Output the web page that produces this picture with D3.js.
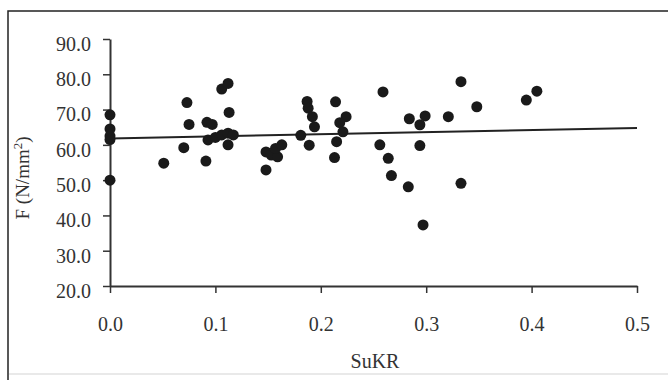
<!DOCTYPE html>
<html>
<head>
<meta charset="utf-8">
<script src="https://cdn.jsdelivr.net/npm/d3@7"></script>
<style>
  html, body { margin: 0; padding: 0; background: #fff; overflow: hidden; }
  svg { display: block; }
</style>
</head>
<body>
<svg id="chart"></svg>
<script>
const width = 668;
const height = 380;
const fontFamily = "'Liberation Serif', 'Times New Roman', serif";

// SuKR values (x) and F values (y)
const xValues = [0, 0, 0, 0, 0,
  0.051, 0.070, 0.073, 0.075, 0.092, 0.097, 0.091, 0.106, 0.112, 0.113,
  0.093, 0.100, 0.106, 0.112, 0.117, 0.112,
  0.148, 0.148, 0.153, 0.159, 0.157, 0.163,
  0.181, 0.187, 0.188, 0.192, 0.194, 0.189,
  0.214, 0.224, 0.218, 0.221, 0.215, 0.213,
  0.259, 0.256, 0.264, 0.267, 0.283, 0.297, 0.284, 0.294, 0.299, 0.294,
  0.321, 0.333, 0.348, 0.333, 0.395, 0.405];
const yValues = [68.5, 64.5, 62.5, 61.5, 50.0,
  54.8, 59.2, 72.0, 65.8, 66.4, 65.8, 55.4, 75.8, 77.4, 69.2,
  61.4, 62.1, 62.8, 63.3, 62.8, 60.0,
  52.9, 58.0, 57.1, 56.6, 59.0, 60.0,
  62.7, 72.3, 70.4, 68.0, 65.1, 59.9,
  72.2, 68.0, 66.3, 63.7, 60.9, 56.4,
  75.0, 60.0, 56.2, 51.3, 48.1, 37.3, 67.4, 65.7, 68.2, 59.8,
  68.0, 77.9, 70.8, 49.1, 72.7, 75.2];

// linear trend line end points
const trendX = [0, 0.5];
const trendY = [61.8, 64.8];

const xTicks = [0, 0.1, 0.2, 0.3, 0.4, 0.5];
const yTicks = [20, 30, 40, 50, 60, 70, 80, 90];

const data = xValues.map((x, i) => ({ x: x, y: yValues[i] }));

const svg = d3.select("#chart")
  .attr("width", width)
  .attr("height", height)
  .attr("font-family", fontFamily);

// outer frame: left and top edges dark, bottom edge faint
svg.append("path")
  .attr("d", `M8,${height}V11H${width}`)
  .attr("fill", "none")
  .attr("stroke", "#222")
  .attr("stroke-width", 1.5);
svg.append("line").attr("x1", 9).attr("x2", width).attr("y1", 374).attr("y2", 374)
  .attr("stroke", "#e2e2e2").attr("stroke-width", 1.5);

const margin = { top: 39, left: 110 };
const innerWidth = 527;
const innerHeight = 247;

const xScale = d3.scaleLinear().domain([0, 0.5]).range([0, innerWidth]);
const yScale = d3.scaleLinear().domain([20, 90]).range([innerHeight, 0]);

const g = svg.append("g")
  .attr("transform", `translate(${margin.left},${margin.top})`);

// x axis
const xAxis = d3.axisBottom(xScale)
  .tickValues(xTicks)
  .tickFormat(d3.format(".1f"))
  .tickSizeInner(7)
  .tickSizeOuter(0)
  .tickPadding(24);

const xAxisG = g.append("g")
  .attr("transform", `translate(0,${innerHeight})`)
  .call(xAxis)
  .attr("font-family", fontFamily)
  .attr("font-size", 20);
xAxisG.select(".domain").attr("stroke", "#333").attr("stroke-width", 2);
xAxisG.selectAll(".tick line").attr("stroke", "#333").attr("stroke-width", 1.5);
xAxisG.selectAll(".tick text").attr("fill", "#333");

// y axis
const yAxis = d3.axisLeft(yScale)
  .tickValues(yTicks)
  .tickFormat(d3.format(".1f"))
  .tickSizeInner(7)
  .tickSizeOuter(0)
  .tickPadding(12);

const yAxisG = g.append("g").call(yAxis)
  .attr("font-family", fontFamily)
  .attr("font-size", 20);
yAxisG.select(".domain").attr("stroke", "#333").attr("stroke-width", 2);
yAxisG.selectAll(".tick line").attr("stroke", "#333").attr("stroke-width", 1.5);
yAxisG.selectAll(".tick text")
  .attr("y", 5)
  .attr("fill", "#333");

// axis titles
svg.append("text")
  .attr("x", margin.left + 265)
  .attr("y", margin.top + innerHeight + 82)
  .attr("text-anchor", "middle")
  .attr("font-size", 20)
  .attr("fill", "#333")
  .text("SuKR");

const yLabel = svg.append("text")
  .attr("transform", `translate(29,${margin.top + 139}) rotate(-90)`)
  .attr("text-anchor", "middle")
  .attr("font-size", 19)
  .attr("fill", "#333");
yLabel.append("tspan").text("F (N/mm");
yLabel.append("tspan").attr("dy", -7).attr("font-size", 13).text("2");
yLabel.append("tspan").attr("dy", 7).text(")");

// trend line
const line = d3.line()
  .x((d) => xScale(d[0]))
  .y((d) => yScale(d[1]));

g.append("path")
  .datum(trendX.map((x, i) => [x, trendY[i]]))
  .attr("d", line)
  .attr("fill", "none")
  .attr("stroke", "#222")
  .attr("stroke-width", 2);

// points
g.selectAll("circle")
  .data(data)
  .enter()
  .append("circle")
  .attr("cx", (d) => xScale(d.x))
  .attr("cy", (d) => yScale(d.y))
  .attr("r", 5.5)
  .attr("fill", "#1a1a1a");
</script>
</body>
</html>
